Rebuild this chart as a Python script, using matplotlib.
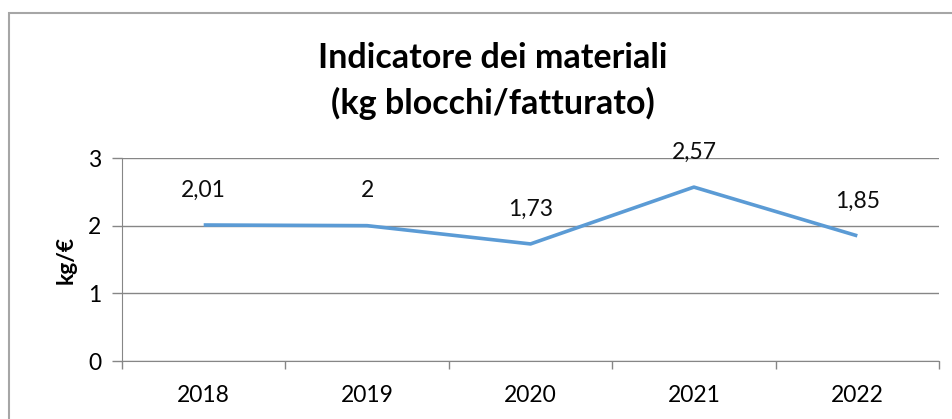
import matplotlib.pyplot as plt
from matplotlib.patches import Rectangle

years = ['2018', '2019', '2020', '2021', '2022']
values = [2.01, 2.00, 1.73, 2.57, 1.85]
labels = ['2,01', '2', '1,73', '2,57', '1,85']
yticks = [0, 1, 2, 3]

plt.rcParams['font.family'] = ['Lato', 'DejaVu Sans']

W, H = 952, 419
fig = plt.figure(figsize=(W / 100, H / 100), dpi=100)

# outer chart border (runs past the right and bottom edges)
fig.patches.append(Rectangle((9 / W, 0 - 0.05), 1.1, (H - 13) / H + 0.05,
                             transform=fig.transFigure, fill=False,
                             edgecolor='#a6a6a6', linewidth=1.5))

ax = fig.add_axes([122 / W, (H - 361) / H, (939 - 122) / W, (361 - 158) / H])

x = list(range(len(years)))
ax.plot(x, values, color='#5b9bd5', linewidth=2.6, solid_capstyle='butt')
for xi, v, lab in zip(x, values, labels):
    ax.annotate(lab, (xi, v), xytext=(0, 25), textcoords='offset points',
                ha='center', va='center', fontsize=16.5, color='#0d0d0d')

ax.set_xlim(-0.5, len(years) - 0.5)
ax.set_ylim(0, 3)
ax.set_yticks(yticks)
ax.set_yticklabels([str(t) for t in yticks], fontsize=16.5)
ax.set_xticks(x)
ax.set_xticklabels(years, fontsize=16.5)
ax.set_xticks([i - 0.5 for i in range(len(years) + 1)], minor=True)
ax.tick_params(axis='x', which='major', length=0, pad=17)
ax.tick_params(axis='x', which='minor', length=6, color='#868686', width=1)
ax.tick_params(axis='y', length=7, color='#868686', width=1, pad=8)
ax.grid(axis='y', color='#868686', linewidth=1)
ax.set_axisbelow(True)
for s in ['top', 'right']:
    ax.spines[s].set_visible(False)
ax.spines['left'].set_color('#868686')
ax.spines['bottom'].set_color('#868686')

ax.set_ylabel('kg/€', fontsize=16.5, fontweight='bold', labelpad=8)

fig.text(493 / W, 1 - 58 / H, 'Indicatore dei materiali', ha='center', va='center',
         fontsize=24.5, fontweight='bold')
fig.text(493 / W, 1 - 103 / H, '(kg blocchi/fatturato)', ha='center', va='center',
         fontsize=24.5, fontweight='bold')

fig.savefig('out.png', dpi=100)
